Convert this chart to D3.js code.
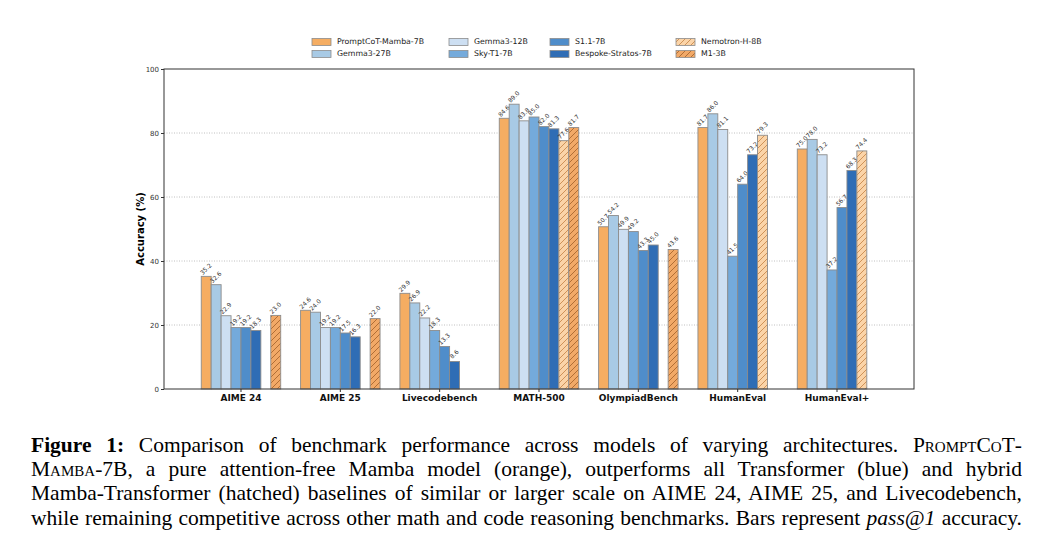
<!DOCTYPE html>
<html>
<head>
<meta charset="utf-8">
<script src="https://cdn.jsdelivr.net/npm/d3@7/dist/d3.min.js"></script>
<style>
  body { margin: 0; background: #fff; }
  #chart { position: absolute; left: 0; top: 0; }
  #caption {
    position: absolute; left: 31px; top: 433px; width: 991px;
    font-family: "Liberation Serif", "Times New Roman", serif;
    font-size: 21.5px; line-height: 24.2px; color: #000;
  }
  #caption div { text-align: justify; text-align-last: justify; white-space: nowrap; }
  .sc { font-variant: small-caps; }
</style>
</head>
<body>
<svg id="chart" width="1045" height="425"></svg>
<div id="caption">
  <div><b>Figure 1:</b> Comparison of benchmark performance across models of varying architectures. <span class="sc">PromptCoT</span>-</div>
  <div><span class="sc">Mamba</span>-7B, a pure attention-free Mamba model (orange), outperforms all Transformer (blue) and hybrid</div>
  <div>Mamba-Transformer (hatched) baselines of similar or larger scale on AIME 24, AIME 25, and Livecodebench,</div>
  <div>while remaining competitive across other math and code reasoning benchmarks. Bars represent <i>pass@1</i> accuracy.</div>
</div>
<script>
// benchmarks on the x axis
var benchmarks = ["AIME 24", "AIME 25", "Livecodebench", "MATH-500", "OlympiadBench", "HumanEval", "HumanEval+"]

// one array per model, null = not reported
var promptcotMamba = [35.2, 24.6, 29.9, 84.6, 50.7, 81.7, 75.0]
var gemma27 = [32.6, 24.0, 26.9, 89.0, 54.2, 86.0, 78.0]
var gemma12 = [22.9, 19.2, 22.2, 83.8, 49.9, 81.1, 73.2]
var skyT1 = [19.2, 19.2, 18.3, 85.0, 49.2, 41.5, 37.2]
var s11 = [19.2, 17.5, 13.3, 82.0, 43.3, 64.0, 56.7]
var bespoke = [18.3, 16.3, 8.6, 81.3, 45.0, 73.2, 68.3]
var nemotron = [null, null, null, 77.6, null, 79.3, 74.4]
var m1 = [23.0, 22.0, null, 81.7, 43.6, null, null]

var yTicks = [0, 20, 40, 60, 80, 100]

var models = [
  { name: "PromptCoT-Mamba-7B", values: promptcotMamba, fill: "#f5ad62" },
  { name: "Gemma3-27B", values: gemma27, fill: "#a8cae5" },
  { name: "Gemma3-12B", values: gemma12, fill: "#cddff2" },
  { name: "Sky-T1-7B", values: skyT1, fill: "#74aadb" },
  { name: "S1.1-7B", values: s11, fill: "#4f8dca" },
  { name: "Bespoke-Stratos-7B", values: bespoke, fill: "#2f6db5" },
  { name: "Nemotron-H-8B", values: nemotron, fill: "#fbd4a8", hatch: "#c98a4f" },
  { name: "M1-3B", values: m1, fill: "#f2a967", hatch: "#a9682f" }
]

var svg = d3.select("#chart")
// plot box (window.top is read-only, so no bare "top" here)
var plotL = 164, plotR = 914, plotT = 69, plotB = 389

// hatch patterns for the hybrid models
var defs = svg.append("defs")
models.forEach(function (m, i) {
  if (!m.hatch) return
  var p = defs.append("pattern")
    .attr("id", "hatch" + i)
    .attr("patternUnits", "userSpaceOnUse")
    .attr("width", 6).attr("height", 6)
  p.append("rect").attr("width", 6).attr("height", 6).attr("fill", m.fill)
  p.append("path")
    .attr("d", "M0,6 L6,0 M-1,1 L1,-1 M5,7 L7,5")
    .attr("stroke", m.hatch).attr("stroke-width", 0.9)
})

var x = d3.scaleBand().domain(benchmarks).range([plotL, plotR]).paddingInner(0.2).paddingOuter(0.375)
var xInner = d3.scaleBand().domain(models.map(function (m) { return m.name })).range([0, x.bandwidth()])
var y = d3.scaleLinear().domain([0, 100]).range([plotB, plotT])

// grid
svg.append("g").selectAll("line")
  .data(yTicks.filter(function (t) { return t > 0 && t < 100 }))
  .enter().append("line")
  .attr("x1", plotL).attr("x2", plotR)
  .attr("y1", function (d) { return y(d) }).attr("y2", function (d) { return y(d) })
  .attr("stroke", "#b0b0b0").attr("stroke-width", 0.8).attr("stroke-dasharray", "1,1.5")

// bars
var groups = svg.append("g").selectAll("g")
  .data(models)
  .enter().append("g")

groups.each(function (m, i) {
  var g = d3.select(this)
  var pts = m.values.map(function (v, j) { return { v: v, b: benchmarks[j] } })
    .filter(function (d) { return d.v !== null })
  g.selectAll("rect").data(pts).enter().append("rect")
    .attr("x", function (d) { return x(d.b) + xInner(m.name) })
    .attr("width", xInner.bandwidth())
    .attr("y", function (d) { return y(d.v) })
    .attr("height", function (d) { return plotB - y(d.v) })
    .attr("fill", m.hatch ? "url(#hatch" + i + ")" : m.fill)
    .attr("stroke", "#8c8c8c").attr("stroke-width", 0.9)
  g.selectAll("text").data(pts).enter().append("text")
    .attr("transform", function (d) {
      var cx = x(d.b) + xInner(m.name) + xInner.bandwidth() / 2
      return "translate(" + cx + "," + (y(d.v) - 7) + ") rotate(-45)"
    })
    .attr("text-anchor", "middle").attr("dominant-baseline", "middle")
    .attr("font-family", "DejaVu Sans").attr("font-size", 6)
    .attr("fill", "#333")
    .text(function (d) { return d.v.toFixed(1) })
})

// frame
svg.append("rect")
  .attr("x", plotL).attr("y", plotT).attr("width", plotR - plotL).attr("height", plotB - plotT)
  .attr("fill", "none").attr("stroke", "#333").attr("stroke-width", 1)

// axes
var yAxis = svg.append("g").attr("transform", "translate(" + plotL + ",0)")
  .call(d3.axisLeft(y).tickValues(yTicks).tickSize(3).tickPadding(2))
yAxis.select(".domain").remove()
yAxis.selectAll("text").attr("font-family", "DejaVu Sans").attr("font-size", 7).attr("fill", "#333")
yAxis.selectAll("line").attr("stroke", "#333")

var xAxis = svg.append("g").attr("transform", "translate(0," + plotB + ")")
  .call(d3.axisBottom(x).tickSize(3).tickPadding(3))
xAxis.select(".domain").remove()
xAxis.selectAll("text").attr("font-family", "DejaVu Sans").attr("font-weight", "bold")
  .attr("font-size", 9).attr("fill", "#111")
xAxis.selectAll("line").attr("stroke", "#333")

svg.append("text")
  .attr("transform", "translate(141," + ((plotT + plotB) / 2) + ") rotate(-90)")
  .attr("text-anchor", "middle").attr("dominant-baseline", "middle")
  .attr("font-family", "DejaVu Sans").attr("font-weight", "bold").attr("font-size", 10)
  .text("Accuracy (%)")

// legend: 4 columns, filled column by column
var colX = [312, 449, 550, 676]
var rowY = [42, 54]
var leg = svg.append("g").selectAll("g")
  .data(models)
  .enter().append("g")
  .attr("transform", function (m, i) {
    return "translate(" + colX[Math.floor(i / 2)] + "," + rowY[i % 2] + ")"
  })
leg.append("rect")
  .attr("x", 0).attr("y", -3.5).attr("width", 19).attr("height", 7)
  .attr("fill", function (m, i) { return m.hatch ? "url(#hatch" + i + ")" : m.fill })
  .attr("stroke", "#8c8c8c").attr("stroke-width", 0.8)
leg.append("text")
  .attr("x", 25).attr("y", 0).attr("dominant-baseline", "middle")
  .attr("font-family", "DejaVu Sans").attr("font-size", 7.8).attr("fill", "#222")
  .text(function (m) { return m.name })
</script>
</body>
</html>
